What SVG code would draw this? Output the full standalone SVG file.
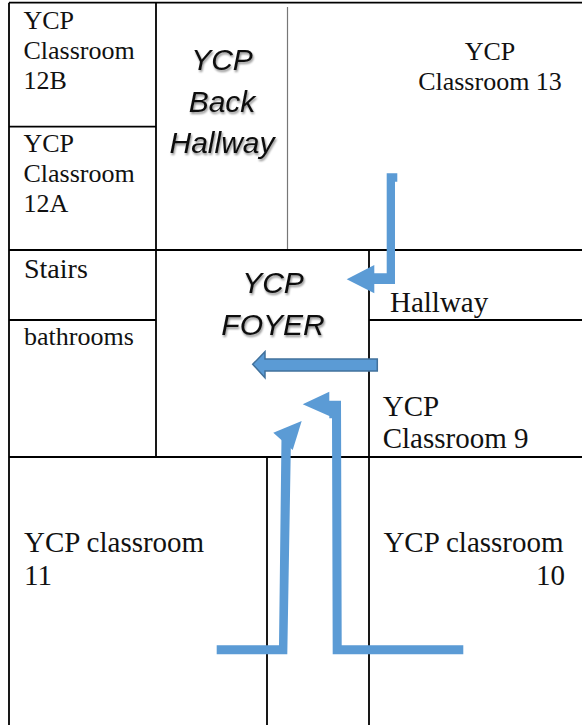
<svg xmlns="http://www.w3.org/2000/svg" width="582" height="725" viewBox="0 0 582 725">
<style>
.wall{stroke:#000;stroke-width:1.8;fill:none}
.thin{stroke:#777;stroke-width:1.2;fill:none}
.lbl{font-family:"Liberation Serif","Times New Roman",serif;font-size:26px;fill:#111}
.lg{font-size:29px}
.it{font-family:"Liberation Sans",Arial,sans-serif;font-style:italic;font-size:30px;fill:#111;text-anchor:middle}
.arr{fill:#5B9BD5}
.arr2{fill:#5B9BD5;stroke:#41719C;stroke-width:1.5}
</style>
<defs>
<filter id="sh" x="-10%" y="-20%" width="130%" height="150%">
<feGaussianBlur in="SourceAlpha" stdDeviation="1.2"/>
<feOffset dx="1" dy="1.5"/>
<feComponentTransfer><feFuncA type="linear" slope="0.45"/></feComponentTransfer>
<feMerge><feMergeNode/><feMergeNode in="SourceGraphic"/></feMerge>
</filter>
</defs>
<rect width="582" height="725" fill="#fff"/>
<g id="walls">
<path class="wall" d="M9,2.7H582M9,2.7V725M156,2.7V457M9,126.7H156M9,250H582M369,250V725M9,320H156M369,320H582M9,457H582M267,457V725"/>
<path class="thin" d="M287.5,7V249"/>
</g>
<g id="room-12b"><text class="lbl" x="23.5" y="29.3">YCP</text><text class="lbl" x="23.5" y="59.3">Classroom</text><text class="lbl" x="23.5" y="89.3">12B</text></g>
<g id="room-12a"><text class="lbl" x="23.5" y="151.7">YCP</text><text class="lbl" x="23.5" y="181.7">Classroom</text><text class="lbl" x="23.5" y="211.7">12A</text></g>
<g id="back-hallway" filter="url(#sh)"><text class="it" x="222" y="70">YCP</text><text class="it" x="222" y="111.7">Back</text><text class="it" x="222" y="153">Hallway</text></g>
<g id="room-13"><text class="lbl" x="490" y="60" text-anchor="middle">YCP</text><text class="lbl" x="490" y="90" text-anchor="middle">Classroom 13</text></g>
<g id="stairs"><text class="lbl" x="24" y="278" style="font-size:28px">Stairs</text></g>
<g id="bathrooms"><text class="lbl" x="24" y="345">bathrooms</text></g>
<g id="foyer" filter="url(#sh)"><text class="it" x="273" y="293">YCP</text><text class="it" x="273" y="335">FOYER</text></g>
<g id="hallway"><text class="lbl lg" x="390" y="311.7">Hallway</text></g>
<g id="room-9"><text class="lbl lg" x="382.7" y="415.7">YCP</text><text class="lbl lg" x="382.7" y="448.3">Classroom 9</text></g>
<g id="room-11"><text class="lbl lg" x="24" y="551.7">YCP classroom</text><text class="lbl lg" x="24" y="585">11</text></g>
<g id="room-10"><text class="lbl lg" x="383.4" y="551.7">YCP classroom</text><text class="lbl lg" x="565" y="585" text-anchor="end">10</text></g>
<g id="connectors">
<polygon class="arr" points="386.7,173.3 397.3,173.3 397.3,181.7 395,181.7 395,284 374.3,284 374.3,293.3 346.7,279.3 374.3,265 374.3,273.3 386.7,273.3"/>
<polygon class="arr2" points="377.3,359 265,359 265,351.7 252.7,364.3 265,377.7 265,371 377.3,371"/>
<polygon class="arr" points="302.7,404.3 329.3,391.7 329.3,400.7 341,400.7 341.7,645.3 463.3,645.3 463.3,654.3 332.7,654.3 332,418.3 329.3,418.3 329.3,416"/>
<polygon class="arr" points="301.7,421 273.3,432.7 292.7,450"/>
<polygon class="arr" points="281.5,437 291,437 287.3,654.3 216.7,654.3 216.7,645.3 279,645.3"/>
</g>
</svg>
